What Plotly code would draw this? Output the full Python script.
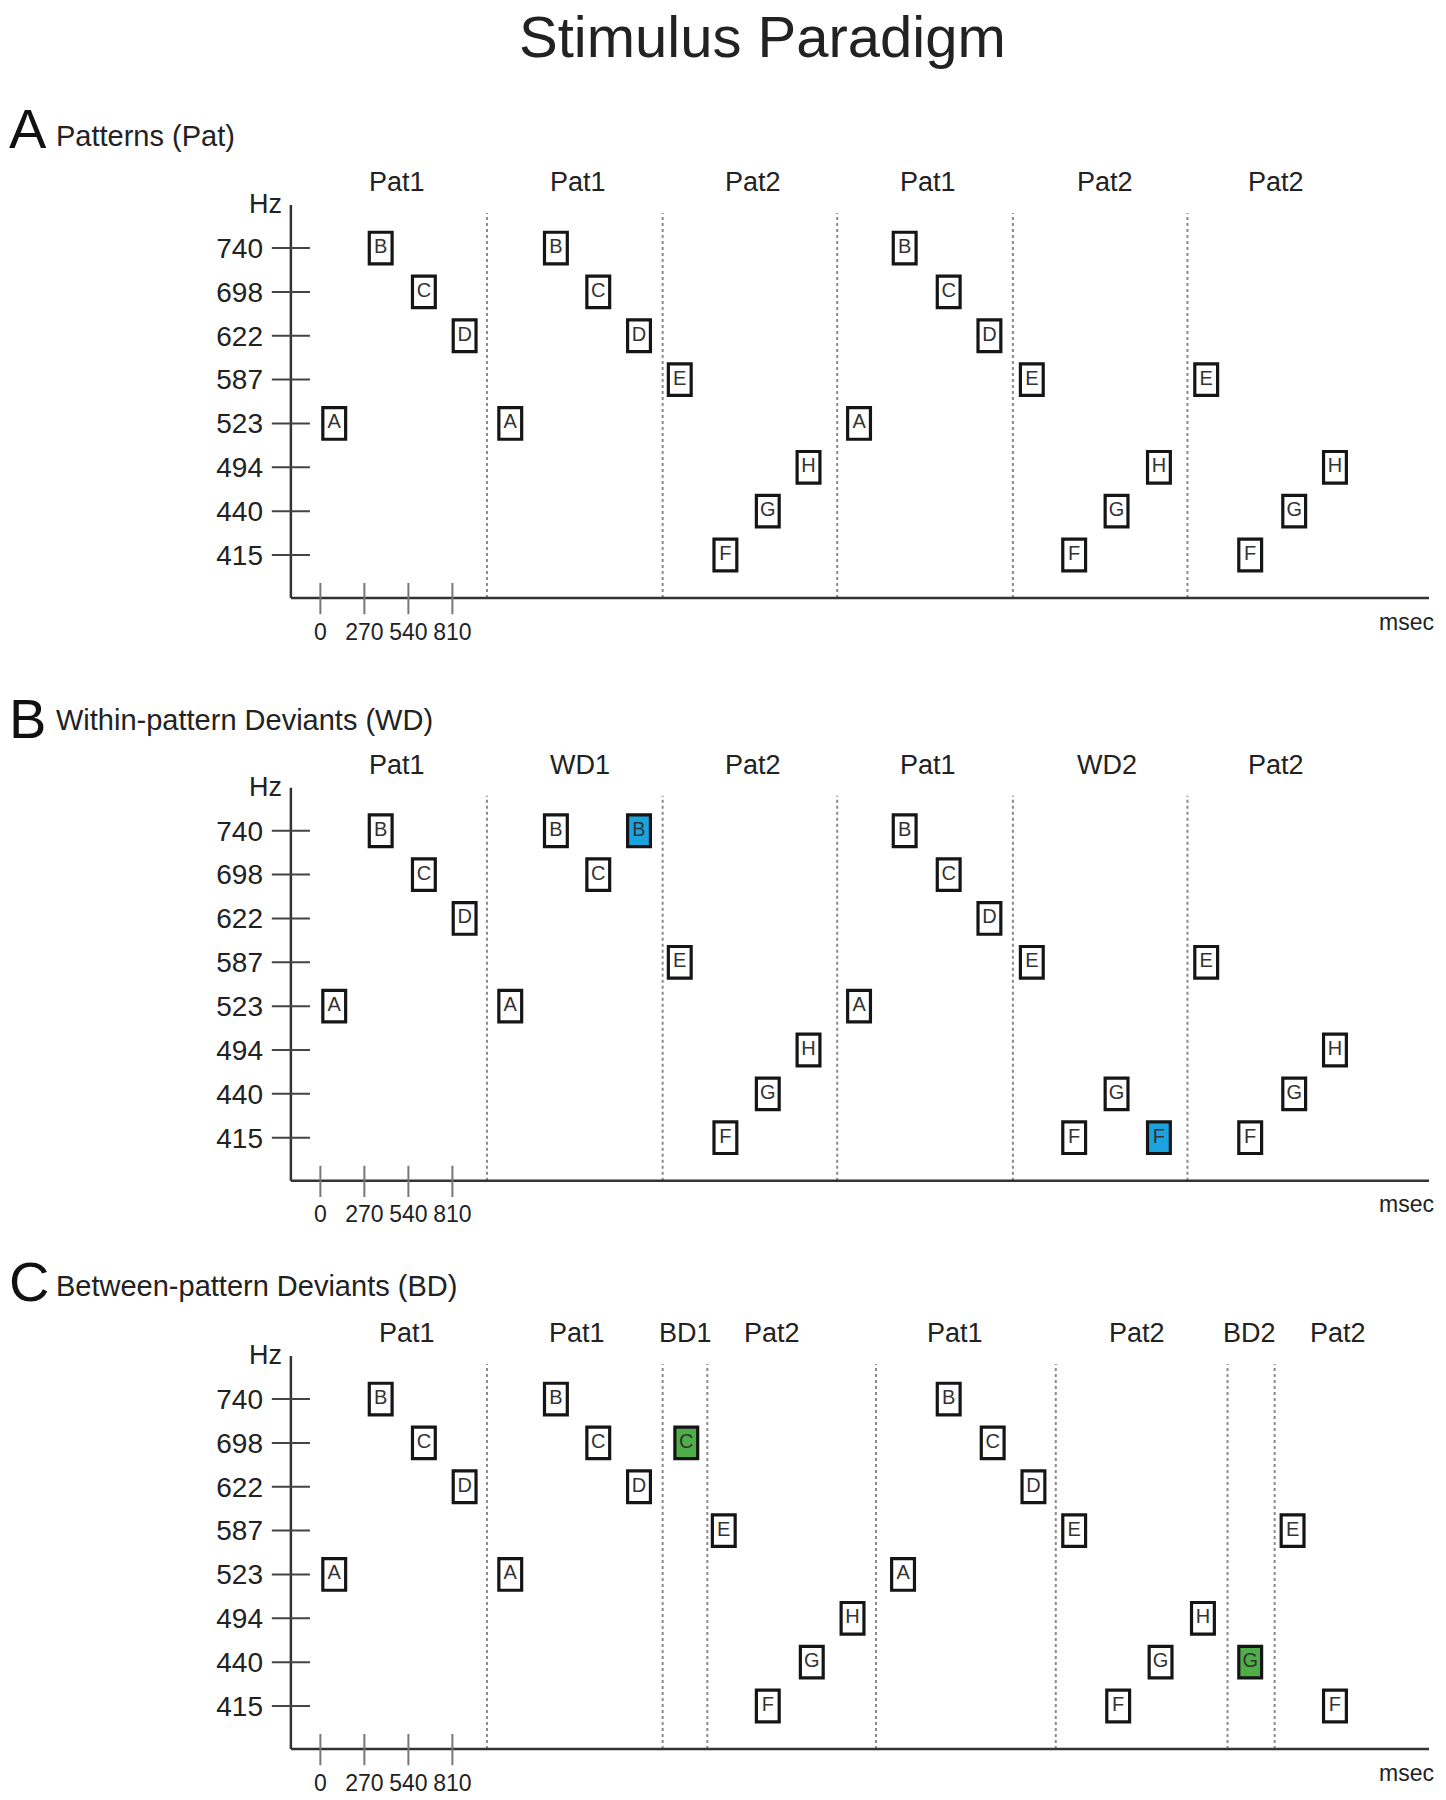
import plotly.graph_objects as go

# ---------------- data ----------------
FREQS = [415, 440, 494, 523, 587, 622, 698, 740]
TONE_HZ = {"A": 523, "B": 740, "C": 698, "D": 622, "E": 587, "F": 415, "G": 440, "H": 494}
X_TICKS = [0, 270, 540, 810]

# Panel A: Patterns
A_letters = list("ABCD" "ABCD" "EFGH" "ABCD" "EFGH" "EFGH")
A_onsets = [0, 285, 550, 800, 1080, 1360, 1620, 1870, 2120, 2400, 2660, 2910,
            3220, 3500, 3770, 4020, 4280, 4540, 4800, 5060, 5350, 5620, 5890, 6140]
A_deviant = [0] * 24
A_seg_labels = ["Pat1", "Pat1", "Pat2", "Pat1", "Pat2", "Pat2"]
A_seg_x = [472, 1579, 2656, 3727, 4812, 5862]
A_bounds = [1022, 2100, 3171, 4249, 5320]

# Panel B: Within-pattern deviants
B_letters = list("ABCD" "ABCB" "EFGH" "ABCD" "EFGF" "EFGH")
B_onsets = [0, 285, 550, 800, 1080, 1360, 1620, 1870, 2120, 2400, 2660, 2910,
            3220, 3500, 3770, 4020, 4280, 4540, 4800, 5060, 5350, 5620, 5890, 6140]
B_deviant = [0, 0, 0, 0, 0, 0, 0, 1, 0, 0, 0, 0, 0, 0, 0, 0, 0, 0, 0, 1, 0, 0, 0, 0]
B_seg_labels = ["Pat1", "WD1", "Pat2", "Pat1", "WD2", "Pat2"]
B_seg_x = [472, 1593, 2656, 3727, 4826, 5862]
B_bounds = [1022, 2100, 3171, 4249, 5320]

# Panel C: Between-pattern deviants
C_letters = list("ABCD" "ABCD" "C" "EFGH" "ABCD" "EFGH" "G" "EF")
C_onsets = [0, 285, 550, 800, 1080, 1360, 1620, 1870, 2160, 2390, 2660, 2930, 3180,
            3490, 3770, 4040, 4290, 4540, 4810, 5070, 5330, 5620, 5880, 6140]
C_deviant = [0, 0, 0, 0, 0, 0, 0, 0, 2, 0, 0, 0, 0, 0, 0, 0, 0, 0, 0, 0, 0, 2, 0, 0]
C_seg_labels = ["Pat1", "Pat1", "BD1", "Pat2", "Pat1", "Pat2", "BD2", "Pat2"]
C_seg_x = [529, 1572, 2241, 2769, 3896, 5009, 5700, 6242]
C_bounds = [1022, 2100, 2374, 3409, 4512, 5566, 5855]

PANEL_LETTERS = ["A", "B", "C"]
PANEL_TITLES = ["Patterns (Pat)", "Within-pattern Deviants (WD)", "Between-pattern Deviants (BD)"]
FIG_TITLE = "Stimulus Paradigm"

# ---------------- layout constants ----------------
BODY = 8                      # default page margin of the html body
FW, FH = 1446 - BODY, 1800 - BODY
FONT = "Liberation Sans, Arial, sans-serif"
INK = "#222222"
DEV_COLORS = {0: "white", 1: "#1ba3df", 2: "#4fae48"}

X_RANGE = [-303, 6802]
Y_RANGE = [-1.36, 8.9]
Y_AXIS_X = -181
X_AXIS_Y = -0.98
PLOT_LEFT_PX, PLOT_RIGHT_PX = 271, 1429      # screen px
ZERO_PX = [555.0, 1137.7, 1706.0]           # screen px of 415 Hz row
UNIT_PX = 43.85
LETTER_Y = [131.0, 720.0, 1283.0]           # screen px
SUB_Y = [137.0, 721.0, 1287.0]

panels = [
    (A_letters, A_onsets, A_deviant, A_seg_labels, A_seg_x, A_bounds),
    (B_letters, B_onsets, B_deviant, B_seg_labels, B_seg_x, B_bounds),
    (C_letters, C_onsets, C_deviant, C_seg_labels, C_seg_x, C_bounds),
]


def px_x(sx):
    return (sx - BODY) / FW


def px_y(sy):
    return 1 - (sy - BODY) / FH


def dom_y(v):
    return (v - Y_RANGE[0]) / (Y_RANGE[1] - Y_RANGE[0])


fig = go.Figure()
shapes = []
annotations = []

for i, (letters, onsets, dev, seg_labels, seg_x, bounds) in enumerate(panels):
    sfx = "" if i == 0 else str(i + 1)
    xr, yr = "x" + sfx, "y" + sfx
    top_px = ZERO_PX[i] - Y_RANGE[1] * UNIT_PX
    bot_px = ZERO_PX[i] - Y_RANGE[0] * UNIT_PX

    yidx = [FREQS.index(TONE_HZ[l]) for l in letters]
    xc = [o + 85 for o in onsets]

    fig.add_trace(go.Scatter(
        x=xc, y=yidx, text=letters, mode="text",
        textfont=dict(family=FONT, size=20, color="#333333"),
        textposition="middle center", hoverinfo="skip", showlegend=False,
        xaxis=xr, yaxis=yr,
    ))

    for o, yi, d in zip(onsets, yidx, dev):
        shapes.append(dict(type="rect", xref=xr, yref=yr, layer="below",
                           x0=o + 15, x1=o + 155, y0=yi - 0.36, y1=yi + 0.36,
                           line=dict(color="#151515", width=3.2),
                           fillcolor=DEV_COLORS[d]))

    for b in bounds:
        shapes.append(dict(type="line", xref=xr, yref=yr, layer="below",
                           x0=b, x1=b, y0=X_AXIS_Y, y1=7.8,
                           line=dict(color="#8a8a8a", width=2, dash="dot")))

    shapes.append(dict(type="line", xref=xr, yref=yr, layer="below",
                       x0=Y_AXIS_X, x1=X_RANGE[1], y0=X_AXIS_Y, y1=X_AXIS_Y,
                       line=dict(color="#333333", width=2.5)))
    shapes.append(dict(type="line", xref=xr, yref=yr, layer="below",
                       x0=Y_AXIS_X, x1=Y_AXIS_X, y0=X_AXIS_Y, y1=7.98,
                       line=dict(color="#333333", width=2.5)))
    for k in range(len(FREQS)):
        shapes.append(dict(type="line", xref=xr, yref=yr, layer="below",
                           x0=-298, x1=-64, y0=k, y1=k,
                           line=dict(color="#444444", width=2)))
    for t in X_TICKS:
        shapes.append(dict(type="line", xref=xr, yref=yr, layer="below",
                           x0=t, x1=t, y0=-0.64, y1=-1.35,
                           line=dict(color="#777777", width=2)))

    for lab, lx in zip(seg_labels, seg_x):
        annotations.append(dict(xref=xr, yref=yr, x=lx, y=8.5, text=lab, showarrow=False,
                                font=dict(family=FONT, size=27, color=INK),
                                xanchor="center", yanchor="middle"))
    annotations.append(dict(xref=xr, yref=yr, x=Y_AXIS_X, y=8.0, text="Hz", showarrow=False,
                            font=dict(family=FONT, size=27, color=INK),
                            xanchor="right", yanchor="middle", xshift=-7))
    annotations.append(dict(xref=xr, yref=yr + " domain", x=6661, y=dom_y(-1.52),
                            text="msec", showarrow=False,
                            font=dict(family=FONT, size=23, color=INK),
                            xanchor="center", yanchor="middle"))
    annotations.append(dict(xref="paper", yref="paper", x=0,
                            y=px_y(LETTER_Y[i] - 2),
                            text=PANEL_LETTERS[i], showarrow=False, borderpad=0,
                            font=dict(family=FONT, size=56, color="#111111"),
                            xanchor="left", yanchor="middle"))
    annotations.append(dict(xref="paper", yref="paper", x=(38 + BODY) / FW,
                            y=px_y(SUB_Y[i] - 1),
                            text=PANEL_TITLES[i], showarrow=False,
                            font=dict(family=FONT, size=29, color=INK),
                            xanchor="left", yanchor="middle"))

    fig.layout["xaxis" + sfx] = dict(
        domain=[px_x(PLOT_LEFT_PX), px_x(PLOT_RIGHT_PX)], range=X_RANGE, anchor=yr,
        tickvals=X_TICKS, ticktext=[str(t) for t in X_TICKS], ticks="",
        tickfont=dict(family=FONT, size=23, color=INK),
        showgrid=False, zeroline=False, showline=False, fixedrange=True,
        ticklabelstandoff=1,
    )
    fig.layout["yaxis" + sfx] = dict(
        domain=[px_y(bot_px), px_y(top_px)], range=Y_RANGE, anchor=xr,
        tickvals=list(range(len(FREQS))), ticktext=[str(f) for f in FREQS], ticks="",
        tickfont=dict(family=FONT, size=28, color=INK),
        showgrid=False, zeroline=False, showline=False, fixedrange=True,
        ticklabelstandoff=7,
    )

annotations.append(dict(xref="paper", yref="paper", x=px_x(763), y=px_y(36),
                        text=FIG_TITLE, showarrow=False,
                        font=dict(family=FONT, size=58, color=INK),
                        xanchor="center", yanchor="middle"))

fig.update_layout(
    width=FW, height=FH, margin=dict(l=0, r=0, t=0, b=0),
    paper_bgcolor="white", plot_bgcolor="white",
    shapes=shapes, annotations=annotations, showlegend=False,
)

fig.write_html("out.html")
